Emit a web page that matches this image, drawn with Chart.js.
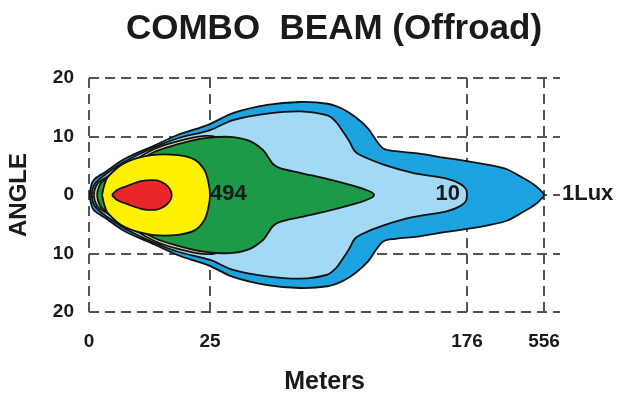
<!DOCTYPE html>
<html>
<head>
<meta charset="utf-8">
<title>Combo Beam (Offroad)</title>
<script src="https://cdn.jsdelivr.net/npm/chart.js@4.4.1/dist/chart.umd.min.js"></script>
<style>
  html, body { margin: 0; padding: 0; background: #fff; }
  #wrap { width: 640px; height: 399px; }
</style>
</head>
<body>
<div id="wrap"><canvas id="beamChart" width="640" height="399"></canvas></div>
<script>
const chartTitle = 'COMBO  BEAM (Offroad)';
const distTicks = [0, 25, 176, 556];
const angleTicks = [20, 10, 0, -10, -20];

// isolux contours: distance in meters, half width of the beam in degrees
const redDist = [4.75, 5.8, 7.4, 11.0, 14.0, 15.7, 16.7, 17.1];
const redHalf = [0, 0.85, 1.4, 2.4, 2.5, 1.9, 1.0, 0];

const yellowDist = [2.7, 3.1, 3.9, 7.4, 13.0, 18.4, 21.9, 23.8, 24.6, 25];
const yellowHalf = [0, 1.5, 3.1, 5.5, 6.8, 6.8, 6.0, 4.3, 2.4, 0];

const greenDist = [1.65, 1.9, 2.5, 4.3, 8.5, 13.6, 18.4, 22.9, 28, 38.5, 48.5, 56.1, 59.1, 62, 66.1, 77.9, 97.3, 111.4, 119, 121.4];
const greenHalf = [0, 1.0, 2.1, 3.1, 5.0, 7.4, 8.7, 9.6, 9.9, 9.9, 9.2, 7.7, 6.5, 5.3, 4.6, 3.8, 2.5, 1.4, 0.6, 0];

const khakiDist = [1.0, 1.2, 1.9, 3.9, 8.1, 13.6, 18.4, 24.0, 29.7, 34.4, 35.6];
const khakiHalf = [0, 1.0, 2.1, 3.2, 5.3, 7.9, 9.2, 10.1, 9.7, 6.8, 0];

const tenLuxDist = [0.6, 0.8, 1.5, 3.5, 7.6, 13.6, 18.4, 25, 38.5, 58.5, 78, 94, 99, 103, 107, 110, 114, 127, 144, 164, 172, 175.4, 176];
const tenLuxHalf = [0, 1.2, 2.2, 3.6, 5.8, 8.2, 9.7, 11.1, 12.8, 13.9, 14.3, 13.6, 12.5, 10.9, 9.1, 7.5, 6.7, 5.2, 3.8, 2.8, 1.9, 1.0, 0];

const oneLuxDist = [0.2, 0.4, 1, 3.3, 7.4, 13.6, 18.4, 24.6, 38.5, 58.5, 78, 94, 103, 111, 118, 123, 127, 134, 147, 164, 176, 290, 373, 438, 502, 536, 556];
const oneLuxHalf = [0, 1.4, 2.6, 3.9, 6.2, 8.5, 10.3, 12.0, 14.0, 15.4, 15.9, 15.6, 14.7, 13.2, 11.3, 9.2, 7.9, 7.5, 7.1, 6.3, 5.8, 5.1, 4.4, 3.2, 1.9, 0.9, 0];

const contourLabels = ['494', '10', '1Lux'];
const labelDist = [25, 176, 556];

// the meter axis is not linear: every gap between ticks gets its own stretch
const xBreaks = [0, 25, 176, 556, 635];
const xStops = [0, 0.257, 0.8025, 0.966, 1];

function lookup(v, from, to) {
  let i = 1;
  while (i < from.length - 1 && v > from[i]) i++;
  const t = (v - from[i - 1]) / (from[i] - from[i - 1]);
  return to[i - 1] + t * (to[i] - to[i - 1]);
}

class StretchScale extends Chart.LinearScale {
  getPixelForValue(value) {
    return this.getPixelForDecimal(lookup(value, xBreaks, xStops));
  }
  getValueForPixel(pixel) {
    return lookup(this.getDecimalForPixel(pixel), xStops, xBreaks);
  }
}
StretchScale.id = 'stretch';
StretchScale.defaults = Chart.LinearScale.defaults;
Chart.register(StretchScale);

// closed outline: upper edge left to right, then the mirrored lower edge back
function ring(dist, half) {
  const top = dist.map((d, i) => ({ x: d, y: half[i] }));
  const bottom = dist.map((d, i) => ({ x: d, y: -half[i] })).slice(1, -1).reverse();
  return top.concat(bottom, [top[0]]);
}

// innermost first so it ends up drawn on top
const contours = [
  { dist: redDist, half: redHalf, color: '#e8272b' },
  { dist: yellowDist, half: yellowHalf, color: '#fff200' },
  { dist: greenDist, half: greenHalf, color: '#1c9a47' },
  { dist: khakiDist, half: khakiHalf, color: '#d8d38e' },
  { dist: tenLuxDist, half: tenLuxHalf, color: '#a2d9f5' },
  { dist: oneLuxDist, half: oneLuxHalf, color: '#1ea3e1' }
];

const ink = '#1a1a1a';
const gridStyle = { color: '#555', lineWidth: 2, drawTicks: false };
const gridBorder = { display: false, dash: [10, 6] };

const beamText = {
  id: 'beamText',
  afterDraw(chart) {
    const { ctx, scales: { x, y } } = chart;
    ctx.save();
    ctx.fillStyle = ink;
    ctx.textBaseline = 'middle';
    ctx.textAlign = 'center';
    ctx.font = 'bold 35px "Liberation Sans", Arial, sans-serif';
    ctx.fillText(chartTitle, 334, 29);

    ctx.font = 'bold 22px "Liberation Sans", Arial, sans-serif';
    const y0 = y.getPixelForValue(0) - 1;
    ctx.textAlign = 'left';
    ctx.fillText(contourLabels[0], x.getPixelForValue(labelDist[0]), y0);
    ctx.textAlign = 'right';
    ctx.fillText(contourLabels[1], x.getPixelForValue(labelDist[1]) - 7, y0);
    ctx.textAlign = 'left';
    ctx.fillText(contourLabels[2], x.getPixelForValue(labelDist[2]) + 18, y0);
    ctx.restore();
  }
};

new Chart(document.getElementById('beamChart'), {
  type: 'scatter',
  data: {
    datasets: contours.map(c => ({
      data: ring(c.dist, c.half),
      showLine: true,
      fill: 'shape',
      backgroundColor: c.color,
      borderColor: '#111',
      borderWidth: 1.8,
      tension: 0.35,
      pointRadius: 0
    }))
  },
  options: {
    responsive: false,
    animation: false,
    events: [],
    layout: { padding: { top: 78, right: 80, left: 0, bottom: 0 } },
    plugins: {
      legend: { display: false },
      tooltip: { enabled: false }
    },
    scales: {
      x: {
        type: 'stretch',
        min: 0,
        max: 635,
        z: 1,
        afterBuildTicks: s => { s.ticks = distTicks.map(v => ({ value: v })); },
        afterFit: s => { s.height = 87; },
        grid: gridStyle,
        border: gridBorder,
        ticks: {
          autoSkip: false,
          maxRotation: 0,
          padding: 18,
          color: ink,
          font: { family: 'Liberation Sans', weight: 'bold', size: 19 },
          callback: v => String(v)
        },
        title: {
          display: true,
          text: 'Meters',
          color: ink,
          padding: { top: 0, bottom: 2 },
          font: { family: 'Liberation Sans', weight: 'bold', size: 25 }
        }
      },
      y: {
        min: -20,
        max: 20,
        z: 1,
        afterBuildTicks: s => { s.ticks = angleTicks.map(v => ({ value: v })); },
        afterFit: s => { s.width = 89; },
        grid: gridStyle,
        border: gridBorder,
        ticks: {
          padding: 15,
          color: ink,
          font: { family: 'Liberation Sans', weight: 'bold', size: 19 },
          callback: v => String(Math.abs(v))
        },
        title: {
          display: true,
          text: 'ANGLE',
          color: ink,
          padding: { top: 5, bottom: 0 },
          font: { family: 'Liberation Sans', weight: 'bold', size: 24 }
        }
      }
    }
  },
  plugins: [beamText]
});
</script>
</body>
</html>
